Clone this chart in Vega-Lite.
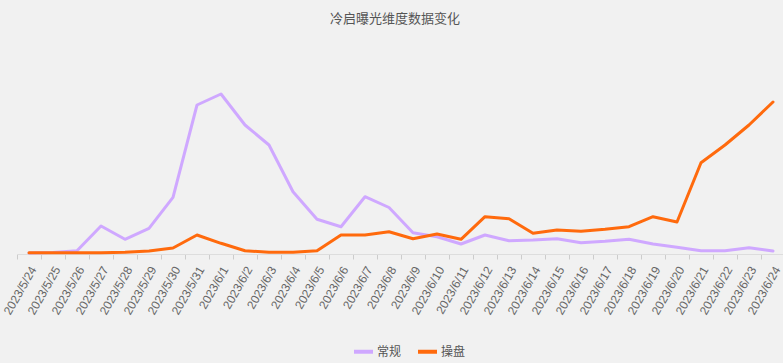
{
  "$schema": "https://vega.github.io/schema/vega-lite/v6.json",
  "autosize": {"type": "none"},
  "width": 768,
  "height": 200,
  "padding": {"left": 17, "top": 54, "right": 0, "bottom": 109},
  "background": "#f1f1f1",
  "title": {
    "text": "冷启曝光维度数据变化",
    "font": "Noto Sans CJK SC",
    "fontSize": 13,
    "fontWeight": "normal",
    "color": "#555555",
    "offset": 28,
    "dx": -6
  },
  "config": {"view": {"stroke": null}},
  "data": {
    "values": [
      {"date": "2023/5/24", "series": "常规", "value": 10},
      {"date": "2023/5/25", "series": "常规", "value": 15},
      {"date": "2023/5/26", "series": "常规", "value": 33},
      {"date": "2023/5/27", "series": "常规", "value": 280},
      {"date": "2023/5/28", "series": "常规", "value": 147},
      {"date": "2023/5/29", "series": "常规", "value": 257},
      {"date": "2023/5/30", "series": "常规", "value": 567},
      {"date": "2023/5/31", "series": "常规", "value": 1490},
      {"date": "2023/6/1", "series": "常规", "value": 1600},
      {"date": "2023/6/2", "series": "常规", "value": 1290},
      {"date": "2023/6/3", "series": "常规", "value": 1090},
      {"date": "2023/6/4", "series": "常规", "value": 623},
      {"date": "2023/6/5", "series": "常规", "value": 347},
      {"date": "2023/6/6", "series": "常规", "value": 273},
      {"date": "2023/6/7", "series": "常规", "value": 573},
      {"date": "2023/6/8", "series": "常规", "value": 465},
      {"date": "2023/6/9", "series": "常规", "value": 213},
      {"date": "2023/6/10", "series": "常规", "value": 173},
      {"date": "2023/6/11", "series": "常规", "value": 100},
      {"date": "2023/6/12", "series": "常规", "value": 190},
      {"date": "2023/6/13", "series": "常规", "value": 133},
      {"date": "2023/6/14", "series": "常规", "value": 140},
      {"date": "2023/6/15", "series": "常规", "value": 153},
      {"date": "2023/6/16", "series": "常规", "value": 113},
      {"date": "2023/6/17", "series": "常规", "value": 127},
      {"date": "2023/6/18", "series": "常规", "value": 147},
      {"date": "2023/6/19", "series": "常规", "value": 100},
      {"date": "2023/6/20", "series": "常规", "value": 67},
      {"date": "2023/6/21", "series": "常规", "value": 33},
      {"date": "2023/6/22", "series": "常规", "value": 33},
      {"date": "2023/6/23", "series": "常规", "value": 63},
      {"date": "2023/6/24", "series": "常规", "value": 30},
      {"date": "2023/5/24", "series": "操盘", "value": 13},
      {"date": "2023/5/25", "series": "操盘", "value": 13},
      {"date": "2023/5/26", "series": "操盘", "value": 13},
      {"date": "2023/5/27", "series": "操盘", "value": 13},
      {"date": "2023/5/28", "series": "操盘", "value": 17},
      {"date": "2023/5/29", "series": "操盘", "value": 30},
      {"date": "2023/5/30", "series": "操盘", "value": 60},
      {"date": "2023/5/31", "series": "操盘", "value": 190},
      {"date": "2023/6/1", "series": "操盘", "value": 107},
      {"date": "2023/6/2", "series": "操盘", "value": 33},
      {"date": "2023/6/3", "series": "操盘", "value": 17},
      {"date": "2023/6/4", "series": "操盘", "value": 17},
      {"date": "2023/6/5", "series": "操盘", "value": 33},
      {"date": "2023/6/6", "series": "操盘", "value": 190},
      {"date": "2023/6/7", "series": "操盘", "value": 190},
      {"date": "2023/6/8", "series": "操盘", "value": 223},
      {"date": "2023/6/9", "series": "操盘", "value": 153},
      {"date": "2023/6/10", "series": "操盘", "value": 200},
      {"date": "2023/6/11", "series": "操盘", "value": 147},
      {"date": "2023/6/12", "series": "操盘", "value": 373},
      {"date": "2023/6/13", "series": "操盘", "value": 353},
      {"date": "2023/6/14", "series": "操盘", "value": 207},
      {"date": "2023/6/15", "series": "操盘", "value": 240},
      {"date": "2023/6/16", "series": "操盘", "value": 227},
      {"date": "2023/6/17", "series": "操盘", "value": 247},
      {"date": "2023/6/18", "series": "操盘", "value": 273},
      {"date": "2023/6/19", "series": "操盘", "value": 373},
      {"date": "2023/6/20", "series": "操盘", "value": 320},
      {"date": "2023/6/21", "series": "操盘", "value": 913},
      {"date": "2023/6/22", "series": "操盘", "value": 1090},
      {"date": "2023/6/23", "series": "操盘", "value": 1290},
      {"date": "2023/6/24", "series": "操盘", "value": 1520}
    ]
  },
  "mark": {"type": "line", "strokeWidth": 3, "strokeJoin": "round", "strokeCap": "round"},
  "encoding": {
    "x": {
      "field": "date",
      "type": "ordinal",
      "sort": null,
      "scale": {"type": "point", "padding": 0.5},
      "axis": {
        "title": null,
        "labelAngle": -60,
        "labelFontSize": 12,
        "labelFont": "Liberation Sans",
        "labelColor": "#666666",
        "labelPadding": 8,
        "domainColor": "#dddddd",
        "tickColor": "#cccccc",
        "tickSize": 5,
        "tickOffset": -12,
        "labelOffset": 16,
        "grid": false
      }
    },
    "y": {
      "field": "value",
      "type": "quantitative",
      "scale": {"domain": [0, 2000], "nice": false},
      "axis": null
    },
    "color": {
      "field": "series",
      "type": "nominal",
      "sort": null,
      "scale": {"domain": ["常规", "操盘"], "range": ["#cfa8ff", "#ff6a0d"]},
      "legend": {
        "title": null,
        "orient": "none",
        "legendX": 335,
        "legendY": 286,
        "direction": "horizontal",
        "symbolType": "stroke",
        "symbolSize": 361,
        "symbolStrokeWidth": 4,
        "labelFont": "Noto Sans CJK SC",
        "labelFontSize": 12,
        "labelColor": "#555555",
        "labelOffset": 2,
        "columnPadding": 8
      }
    }
  }
}
